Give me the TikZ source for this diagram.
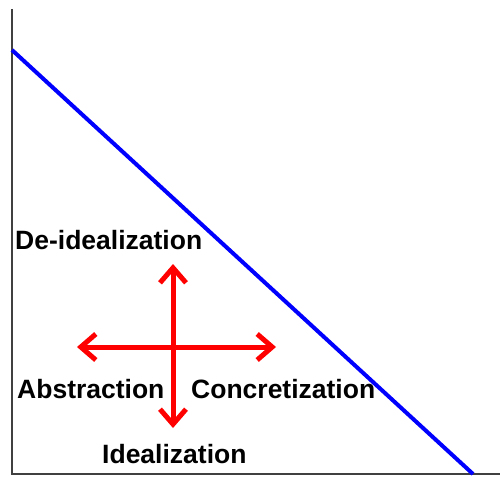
\documentclass[tikz,border=0pt]{standalone}
\usepackage{fontspec}
\setmainfont{Liberation Sans}
\usetikzlibrary{arrows.meta}
\begin{document}
\begin{tikzpicture}[x=1pt,y=1pt,
  axis/.style={line width=2pt,draw=black!75},
  bluel/.style={line width=4pt,draw=blue},
  redarrow/.style={line width=5pt,draw=red,{Straight Barb[length=15pt,width=26pt]}-{Straight Barb[length=15pt,width=26pt]}},
  lbl/.style={anchor=base west,inner sep=0pt,font=\fontsize{26.5}{30}\selectfont\bfseries}]
\useasboundingbox (0,0) rectangle (500,-476);
\fill[white] (0,0) rectangle (500,-476);
\coordinate (o) at (12,-474);
\coordinate (ytop) at (12,-9);
\coordinate (xend) at (500,-474);
\coordinate (b1) at (12,-50);
\coordinate (b2) at (473,-474);
\coordinate (atop) at (173,-264);
\coordinate (abot) at (173,-428);
\coordinate (aleft) at (77,-347);
\coordinate (aright) at (276,-347);
\draw[axis] (ytop) -- (o) -- (xend);
\draw[bluel] (b1) -- (b2);
\draw[redarrow] (abot) -- (atop);
\draw[redarrow] (aleft) -- (aright);
\node[lbl] (deid) at (15,-249) {De-idealization};
\node[lbl] (abs) at (17,-398) {Abstraction};
\node[lbl] (conc) at (191,-398) {Concretization};
\node[lbl] (ideal) at (102,-463) {Idealization};
\end{tikzpicture}
\end{document}
